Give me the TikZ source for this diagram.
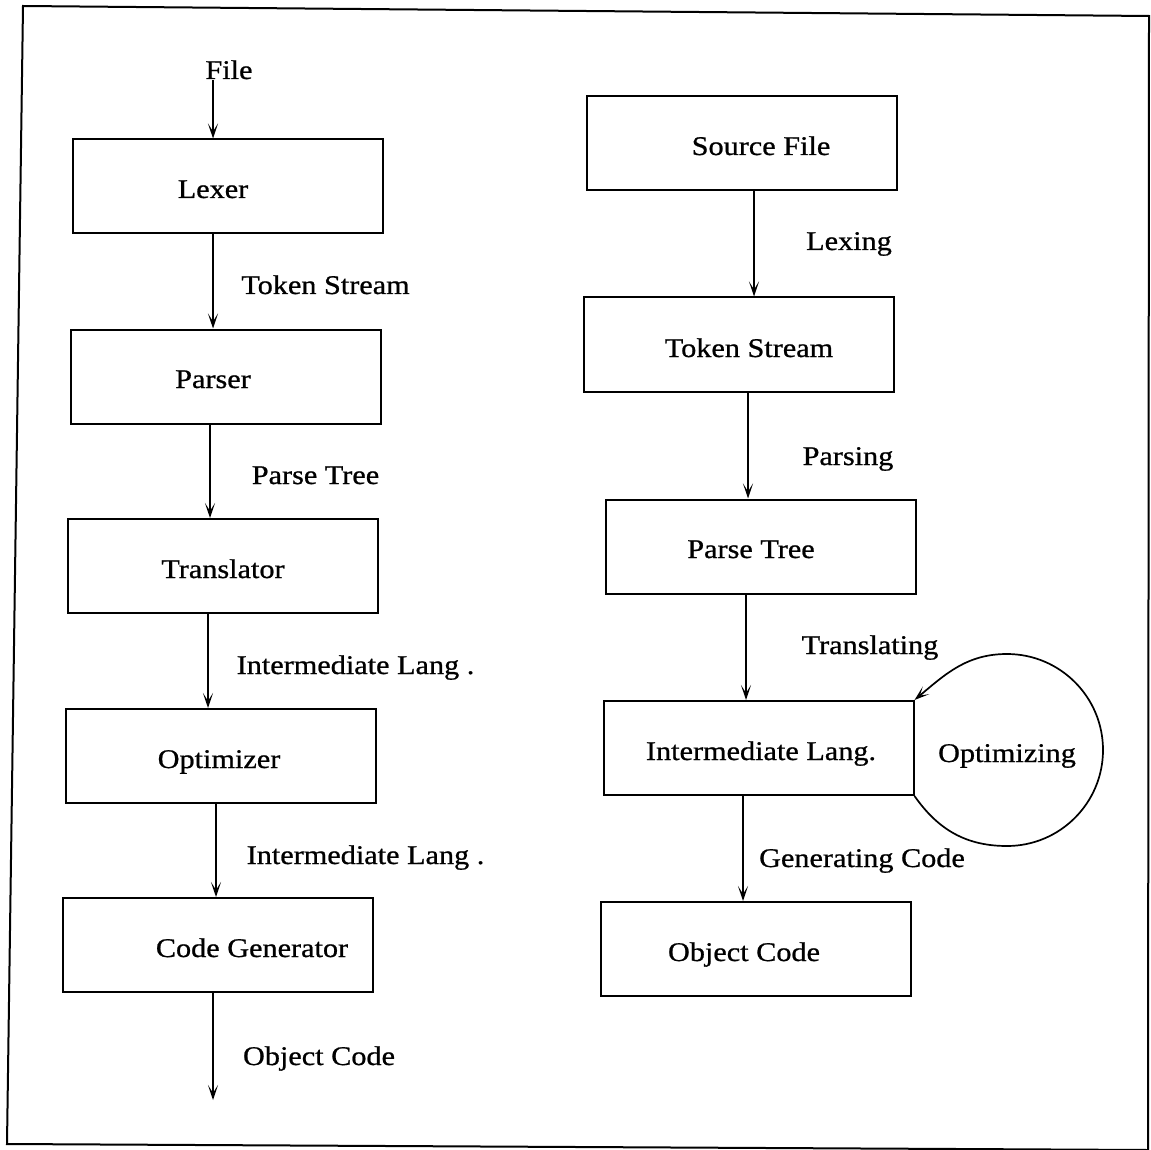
\documentclass[tikz,border=0pt]{standalone}
\usepackage{fontspec}
\setmainfont{Liberation Serif}[FakeStretch=1.12,FakeBold=0.8]
\usetikzlibrary{arrows.meta}
\begin{document}
\begin{tikzpicture}[x=1pt,y=1pt,
  box/.style={draw,line width=2pt,minimum width=310pt,minimum height=94pt,inner sep=0pt},
  txt/.style={font=\fontsize{27}{30}\selectfont,text height=18pt,text depth=0pt,inner sep=0pt},
  arr/.style={line width=1.7pt,-{Stealth[length=15pt,width=10pt,inset=8pt]}}]
\useasboundingbox (0,0) rectangle (1151,-1150);
% outer frame
\draw[line width=2pt] (23,-6) -- (1149,-16) -- (1148,-1150) -- (7,-1144) -- cycle;

% ---- left column: compiler phases ----
\node[box] (lex) at (227.5,-186.5) {};
\node[box] (par) at (225.5,-376.5) {};
\node[box] (tra) at (222.5,-566) {};
\node[box] (opt) at (220.5,-756) {};
\node[box] (cg)  at (217.5,-945) {};
\node[txt] (lexT) at (213,-189) {Lexer};
\node[txt] (parT) at (213,-379) {Parser};
\node[txt] (traT) at (223,-569) {Translator};
\node[txt] (optT) at (219,-759) {Optimizer};
\node[txt] (cgT)  at (252,-948) {Code Generator};

\node[txt] (file) at (229,-70) {File};
\coordinate (fileIn) at (213,-80);
\coordinate (cgOut) at (213,-1100);

\draw[arr] (fileIn) -- ([xshift=-14.5pt]lex.north);
\draw[arr] ([xshift=-14.5pt]lex.south) -- ([xshift=-12.5pt]par.north);
\draw[arr] ([xshift=-15.5pt]par.south) -- ([xshift=-12.5pt]tra.north);
\draw[arr] ([xshift=-14.5pt]tra.south) -- ([xshift=-12.5pt]opt.north);
\draw[arr] ([xshift=-4.5pt]opt.south) -- ([xshift=-1.5pt]cg.north);
\draw[arr] ([xshift=-4.5pt]cg.south) -- (cgOut);

\node[txt] (l1) at (325.5,-285) {Token Stream};
\node[txt] (l2) at (315.5,-475) {Parse Tree};
\node[txt] (l3) at (355.5,-665) {Intermediate Lang .};
\node[txt] (l4) at (365.5,-855) {Intermediate Lang .};
\node[txt] (l5) at (319,-1056) {Object Code};

% ---- right column: data flowing through the phases ----
\node[box] (src) at (741.5,-143.5) {};
\node[box] (tok) at (738.5,-344.5) {};
\node[box] (pt)  at (760.5,-546.5) {};
\node[box] (il)  at (758.5,-748) {};
\node[box] (obj) at (756,-949) {};
\node[txt] (srcT) at (761,-146) {Source File};
\node[txt] (tokT) at (749,-348) {Token Stream};
\node[txt] (ptT)  at (751,-549) {Parse Tree};
\node[txt] (ilT)  at (761,-751) {Intermediate Lang.};
\node[txt] (objT) at (744,-952) {Object Code};

\draw[arr] ([xshift=12.5pt]src.south) -- ([xshift=15.5pt]tok.north);
\draw[arr] ([xshift=9.5pt]tok.south) -- ([xshift=-12.5pt]pt.north);
\draw[arr] ([xshift=-14.5pt]pt.south) -- ([xshift=-12.5pt]il.north);
\draw[arr] ([xshift=-15.5pt]il.south) -- ([xshift=-13pt]obj.north);

\node[txt] (r1) at (849,-241) {Lexing};
\node[txt] (r2) at (848,-456) {Parsing};
\node[txt] (r3) at (870,-645) {Translating};
\node[txt] (r4) at (862,-858) {Generating Code};

% optimizing loop on the intermediate language
\draw[arr] (il.south east) to[out=-55,in=180] (1007,-846)
  arc[start angle=-90,end angle=90,radius=96]
  to[out=180,in=40] (il.north east);
\node[txt] (optL) at (1007,-753) {Optimizing};
\end{tikzpicture}
\end{document}
